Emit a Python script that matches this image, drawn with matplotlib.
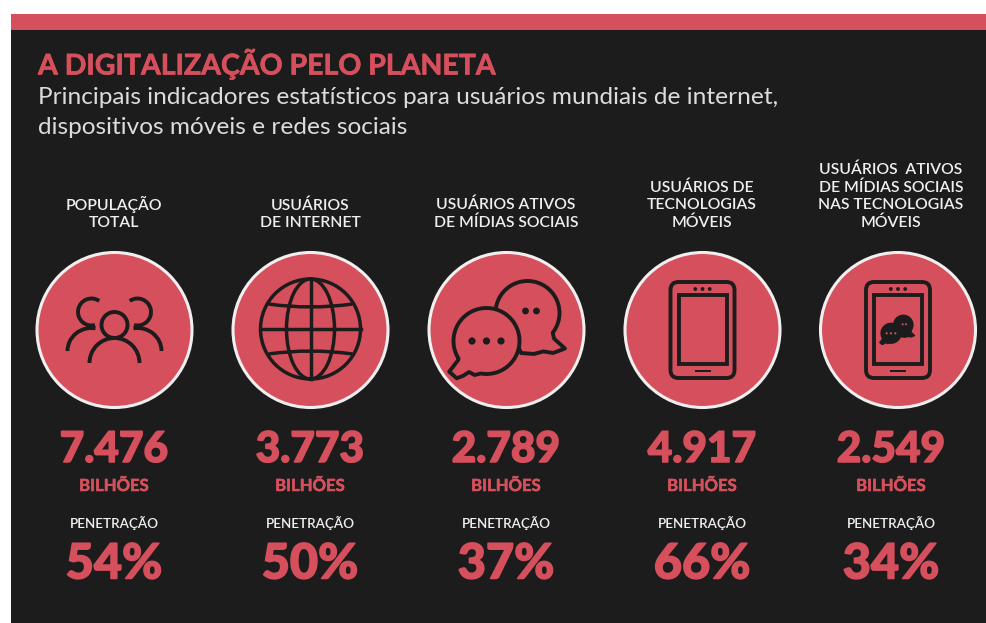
import matplotlib
matplotlib.use("Agg")
import matplotlib.patheffects as pe
import matplotlib.pyplot as plt
import numpy as np
from matplotlib.patches import Arc, Circle, Ellipse, FancyBboxPatch, PathPatch, Polygon, Rectangle
from matplotlib.path import Path

RED = "#d5505c"
DARK = "#1c1c1c"
WHITE = "#f0eeee"
GREY = "#dcdcdc"

TITLE = "A DIGITALIZAÇÃO PELO PLANETA"
SUBTITLE = ["Principais indicadores estatísticos para usuários mundiais de internet,",
            "dispositivos móveis e redes sociais"]
CATEGORIES = ["POPULAÇÃO\nTOTAL",
              "USUÁRIOS\nDE INTERNET",
              "USUÁRIOS ATIVOS\nDE MÍDIAS SOCIAIS",
              "USUÁRIOS DE\nTECNOLOGIAS\nMÓVEIS",
              "USUÁRIOS  ATIVOS\nDE MÍDIAS SOCIAIS\nNAS TECNOLOGIAS\nMÓVEIS"]
TOTALS = ["7.476", "3.773", "2.789", "4.917", "2.549"]
PENETRATION = [54, 50, 37, 66, 34]

CIRCLE_X = [114.5, 310.5, 506.5, 702.5, 898]
TEXT_X = [114, 310, 506, 702, 891]
CIRCLE_Y = 330
LW = 2.8

# tail outlines, in bubble radii from the bubble centre
FRONT_TAIL = [(-0.36, 1.03), (-0.53, 0.94), (-0.7, 1.05), (-0.9, 1.13), (-1.13, 0.93), (-0.86, 0.58)]
BACK_TAIL = [(-0.2, 1.25), (0.2, 1.28), (0.5, 1.2), (0.8, 1.25), (1.17, 1.11), (0.83, 0.8)]


def heavy(width):
    return [pe.withStroke(linewidth=width, foreground=RED)]


def draw_people(ax, cx, cy):
    for dx, dy, r, t1, t2 in [(0, -5, 13, 0, 360),
                              (-23, -18, 13.5, 75, 305),
                              (23, -18, 13.5, -125, 105)]:
        ax.add_patch(Arc((cx + dx, cy + dy), 2 * r, 2 * r, theta1=t1, theta2=t2,
                         color=DARK, lw=LW))
    # shoulders
    ax.add_patch(Arc((cx, cy + 33), 50, 50, theta1=180, theta2=360, color=DARK, lw=LW))
    ax.add_patch(Arc((cx - 23, cy + 21), 48, 46, theta1=180, theta2=280, color=DARK, lw=LW))
    ax.add_patch(Arc((cx + 23, cy + 21), 48, 46, theta1=260, theta2=360, color=DARK, lw=LW))


def draw_globe(ax, cx, cy):
    r = 50
    lw = 2.5
    ax.add_patch(Circle((cx, cy), r, fill=False, ec=DARK, lw=lw))
    ax.add_patch(Ellipse((cx, cy), 48, 2 * r, fill=False, ec=DARK, lw=lw))
    ax.plot([cx, cx], [cy - r, cy + r], color=DARK, lw=lw)
    ax.plot([cx - r, cx + r], [cy, cy], color=DARK, lw=lw)
    for sign in (-1, 1):
        y0 = cy + sign * 25
        verts = [(cx - 42, y0), (cx, y0 - sign * 6), (cx + 42, y0)]
        ax.add_patch(PathPatch(Path(verts, [Path.MOVETO, Path.CURVE3, Path.CURVE3]),
                               fill=False, ec=DARK, lw=lw))


def bubble_points(cx, cy, r, start, end, tail):
    angles = np.radians(np.linspace(start, end, 80))
    pts = [(cx + r * np.cos(a), cy + r * np.sin(a)) for a in angles]
    return pts + [(cx + r * x, cy + r * y) for x, y in tail]


def draw_bubbles(ax, cx, cy, scale=1.0, lw=LW, fill=RED, dot=DARK):
    back = (cx + 21 * scale, cy - 17 * scale)
    front = (cx - 20 * scale, cy + 11 * scale)
    ax.add_patch(Polygon(bubble_points(back[0], back[1], 32 * scale, 38, -250, BACK_TAIL)[::-1],
                         closed=True, fc=fill, ec=DARK, lw=lw, joinstyle="round"))
    ax.add_patch(Polygon(bubble_points(front[0], front[1], 33 * scale, 148, 460, FRONT_TAIL),
                         closed=True, fc=fill, ec=DARK, lw=lw, joinstyle="round"))
    for k in (-1, 0, 1):
        ax.add_patch(Circle((front[0] + k * 14.5 * scale, front[1]), 3.6 * scale, fc=dot, ec="none"))
    for k in (0, 1):
        ax.add_patch(Circle((back[0] - 2 * scale + k * 11 * scale, back[1] - 2 * scale),
                            3.4 * scale, fc=dot, ec="none"))


def draw_tablet(ax, cx, cy):
    ax.add_patch(FancyBboxPatch((cx - 28, cy - 44), 56, 88, boxstyle="round,pad=4,rounding_size=8",
                                fill=False, ec=DARK, lw=LW))
    ax.add_patch(Rectangle((cx - 24, cy - 35), 48, 69, fill=False, ec=DARK, lw=LW))
    for k in (-1, 0, 1):
        ax.add_patch(Circle((cx + k * 7.2, cy - 41), 1.9, fc=DARK, ec="none"))
    ax.add_patch(Rectangle((cx - 8, cy + 39.5), 16, 2.6, fc=DARK, ec="none"))


fig = plt.figure(figsize=(9.87, 6.23), dpi=100)
ax = fig.add_axes([0, 0, 1, 1])
ax.set_xlim(0, 987)
ax.set_ylim(623, 0)
ax.set_aspect("equal")
ax.axis("off")

ax.add_patch(Rectangle((11, 14), 976, 609, fc=DARK, ec="none"))
ax.add_patch(Rectangle((11, 14), 976, 16, fc=RED, ec="none"))

ax.text(38, 64, TITLE, color=RED, fontsize=20.5, fontweight="bold", family="Lato", va="center",
        path_effects=heavy(0.5))
ax.text(38, 98, SUBTITLE[0], color=GREY, fontsize=17.55, family="Lato", va="center")
ax.text(38, 128, SUBTITLE[1], color=GREY, fontsize=17.55, family="Lato", va="center")

for i, cat in enumerate(CATEGORIES):
    ax.text(TEXT_X[i], 230, cat, color=WHITE, fontsize=11.3, family="Lato", fontweight="semibold",
            ha="center", va="bottom", linespacing=1.28)
    ax.add_patch(Circle((CIRCLE_X[i], CIRCLE_Y), 77.5, fc=RED, ec=WHITE, lw=2.2))
    ax.text(TEXT_X[i], 450, TOTALS[i], color=RED, fontsize=30.5, family="Lato", fontweight="black",
            ha="center", va="center", path_effects=heavy(1.1))
    ax.text(TEXT_X[i], 486, "BILHÕES", color=RED, fontsize=12, family="Lato", fontweight="bold",
            ha="center", va="center", path_effects=heavy(0.4))
    ax.text(TEXT_X[i], 523, "PENETRAÇÃO", color=WHITE, fontsize=9.7, family="Lato", fontweight="semibold",
            ha="center", va="center")
    ax.text(TEXT_X[i], 564, f"{PENETRATION[i]}%", color=RED, fontsize=35, family="Lato", fontweight="black",
            ha="center", va="center", path_effects=heavy(1.1))

draw_people(ax, CIRCLE_X[0], CIRCLE_Y)
draw_globe(ax, CIRCLE_X[1], CIRCLE_Y - 1)
draw_bubbles(ax, CIRCLE_X[2], CIRCLE_Y)
draw_tablet(ax, CIRCLE_X[3], CIRCLE_Y)
draw_tablet(ax, CIRCLE_X[4], CIRCLE_Y)
draw_bubbles(ax, CIRCLE_X[4] - 1, CIRCLE_Y, scale=0.3, lw=1.0, fill=DARK, dot=RED)

fig.savefig("out.png", dpi=100, facecolor="white")
